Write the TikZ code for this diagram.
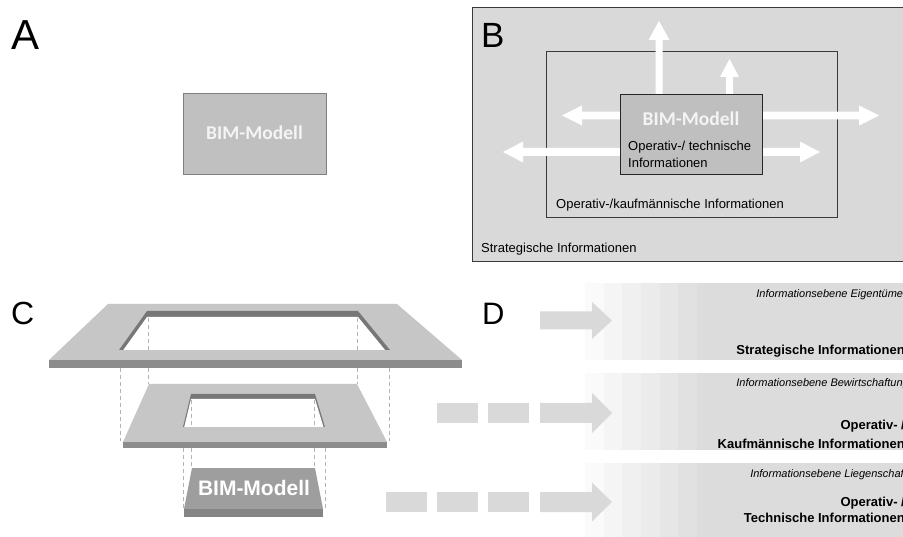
\documentclass[tikz,border=0pt]{standalone}
\usepackage{fontspec}
\setmainfont{Liberation Sans}
\newfontfamily\carlito{Carlito}
\definecolor{boxA}{HTML}{C0C0C0}
\definecolor{boxAline}{HTML}{7F7F7F}
\definecolor{panelB}{HTML}{D9D9D9}
\definecolor{lineB}{HTML}{3A3A3A}
\definecolor{bimB}{HTML}{BFBFBF}
\definecolor{frameTop}{HTML}{C6C6C6}
\definecolor{frameEdge}{HTML}{8C8C8C}
\definecolor{frameWall}{HTML}{777777}
\definecolor{blockTop}{HTML}{9E9E9E}
\definecolor{blockEdge}{HTML}{858585}
\definecolor{dashGray}{HTML}{B4B4B4}
\definecolor{arrowD}{HTML}{D9D9D9}
\definecolor{bandD}{HTML}{DCDCDC}
\definecolor{whiteTxt}{HTML}{F4F4F4}
% #1 x0, #2 xtip, #3 y, #4 shaft half, #5 head half, #6 signed head length, #7 style
\newcommand\hArrow[7]{\fill[#7] (#1,{#3-#4}) -- ({#2-(#6)},{#3-#4}) -- ({#2-(#6)},{#3-#5}) -- (#2,#3) -- ({#2-(#6)},{#3+#5}) -- ({#2-(#6)},{#3+#4}) -- (#1,{#3+#4}) -- cycle;}
% #1 x, #2 y0, #3 ytip, #4 shaft half, #5 head half, #6 signed head length, #7 style
\newcommand\vArrow[7]{\fill[#7] ({#1-#4},#2) -- ({#1-#4},{#3+(#6)}) -- ({#1-#5},{#3+(#6)}) -- (#1,#3) -- ({#1+#5},{#3+(#6)}) -- ({#1+#4},{#3+(#6)}) -- ({#1+#4},#2) -- cycle;}
\tikzset{
  bigletter/.style={anchor=base west, inner sep=0pt, font=\fontsize{#1}{#1}\selectfont},
  txtB/.style={anchor=base west, inner sep=0pt, font=\fontsize{13}{15}\selectfont, text=black},
  bimtxt/.style={inner sep=0pt, text=whiteTxt, font=\carlito\bfseries\fontsize{19.5}{20}\selectfont},
  itD/.style={anchor=base east, inner sep=0pt, font=\itshape\fontsize{11}{12}\selectfont},
  bfD/.style={anchor=base east, inner sep=0pt, font=\bfseries\fontsize{13}{15}\selectfont},
  dashline/.style={dashGray, line width=0.6pt, dash pattern=on 4pt off 3pt},
  whitearrow/.style={fill=white},
  grayarrow/.style={fill=arrowD},
}
\begin{document}
\begin{tikzpicture}[x=1pt,y=-1pt]
\useasboundingbox (0,0) rectangle (903,537);
\fill[white] (0,0) rectangle (903,537);

% ---------------- Panel A ----------------
\node[bigletter=42] (labA) at (11,50) {A};
\node[draw=boxAline, fill=boxA, line width=0.9pt, minimum width=143pt, minimum height=81pt, inner sep=0pt] (bimA) at (254.5,133.5) {};
\node[bimtxt] (bimAtxt) at (254.5,132.5) {BIM-Modell};

% ---------------- Panel B ----------------
\node[draw=lineB, fill=panelB, line width=0.9pt, minimum width=432pt, minimum height=254pt, inner sep=0pt, anchor=north west] (outerB) at (472,7) {};
\node[draw=lineB, line width=0.7pt, minimum width=291pt, minimum height=166pt, inner sep=0pt, anchor=north west] (innerB) at (546,51) {};
\node[bigletter=35] (labB) at (481,48) {B};
% arrows
\vArrow{659}{95}{21}{3.5}{10.5}{19}{whitearrow}
\vArrow{729.5}{95}{59}{3.5}{9.5}{18}{whitearrow}
\hArrow{621}{562}{115.5}{3.8}{10}{-20}{whitearrow}
\hArrow{761}{879}{115.5}{3.8}{10}{20}{whitearrow}
\hArrow{621}{503}{152}{4}{10.5}{-20}{whitearrow}
\hArrow{761}{820}{152}{4}{10.5}{20}{whitearrow}
\node[draw=black!85, fill=bimB, line width=0.9pt, minimum width=142pt, minimum height=80pt, inner sep=0pt, anchor=north west] (bimB) at (620,94) {};
\node[bimtxt] (bimBtxt) at (691,118.5) {BIM-Modell};
\node[txtB] (opTech) at (628,150.6) {Operativ-/ technische};
\node[txtB] (opTech2) at (628,167.5) {Informationen};
\node[txtB] (opKauf) at (556,208.5) {Operativ-/kaufmännische Informationen};
\node[txtB] (strat) at (481,252.5) {Strategische Informationen};

% ---------------- Panel C ----------------
\node[bigletter=32] (labC) at (11,325) {C};
% top frame
\fill[frameTop] (108,304) -- (397,304) -- (462,360) -- (49,360) -- cycle;
\fill[frameEdge] (49,360) rectangle (462,368);
\fill[frameWall] (147,311) -- (358,311) -- (390,350) -- (119,350) -- cycle;
\begin{scope}
  \clip (147,311) -- (358,311) -- (390,350) -- (119,350) -- cycle;
  \fill[white] (147,317) -- (358,317) -- (390,356) -- (119,356) -- cycle;
\end{scope}
% dashed connectors top -> middle
\draw[dashline] (120,368) -- (120,441);
\draw[dashline] (148,318) -- (148,350);
\draw[dashline] (148,368) -- (148,384);
\draw[dashline] (357,318) -- (357,350);
\draw[dashline] (357,368) -- (357,384);
\draw[dashline] (389,368) -- (389,441);
% middle frame
\fill[frameTop] (149,384) -- (357,384) -- (387,442) -- (123,442) -- cycle;
\fill[frameEdge] (123,442) rectangle (387,448);
\fill[frameWall] (191,394) -- (315,394) -- (325,427) -- (183,427) -- cycle;
\begin{scope}
  \clip (191,394) -- (315,394) -- (325,427) -- (183,427) -- cycle;
  \fill[white] (191,399) -- (315,399) -- (325,432) -- (183,432) -- cycle;
\end{scope}
% dashed connectors middle -> block
\draw[dashline] (183,448) -- (183,509);
\draw[dashline] (191.5,400) -- (191.5,427);
\draw[dashline] (191.5,448) -- (191.5,468);
\draw[dashline] (314.5,400) -- (314.5,427);
\draw[dashline] (314.5,448) -- (314.5,468);
\draw[dashline] (325,448) -- (325,509);
% block
\fill[blockTop] (192,468) -- (315,468) -- (323,509) -- (184,509) -- cycle;
\fill[blockEdge] (184,509) rectangle (323,517);
\node[anchor=base, inner sep=0pt, text=white, font=\bfseries\fontsize{21}{21}\selectfont] (bimC) at (254,495.5) {BIM-Modell};

% ---------------- Panel D ----------------
\node[bigletter=31] (labD) at (482,325) {D};
\foreach \ya/\yb in {283/360, 373/450, 463/537}{
  \fill[bandD] (697,\ya) rectangle (905,\yb);
  \foreach \i in {0,...,5}{
    \pgfmathtruncatemacro\g{250-5*\i}
    \definecolor{stepc}{RGB}{\g,\g,\g}
    \fill[stepc] ({585+18.67*\i},\ya) rectangle ({585+18.67*(\i+1)+0.3},\yb);
  }
}
% arrows
\hArrow{540}{612}{320.5}{9}{18.5}{20}{grayarrow}
\fill[arrowD] (437,403) rectangle (478,423);
\fill[arrowD] (488,403) rectangle (529,423);
\hArrow{540}{612}{413}{10}{20}{20}{grayarrow}
\fill[arrowD] (386,492) rectangle (427,512);
\fill[arrowD] (437,492) rectangle (478,512);
\fill[arrowD] (488,492) rectangle (529,512);
\hArrow{540}{612}{502}{10}{19.5}{20}{grayarrow}
% texts
\node[itD] (ebe1) at (907,298) {Informationsebene Eigentümer};
\node[bfD] (lev1) at (905,354.7) {Strategische Informationen};
\node[itD] (ebe2) at (909,387) {Informationsebene Bewirtschaftung};
\node[bfD] (lev2a) at (905,429.7) {Operativ- /};
\node[bfD] (lev2b) at (905,448.3) {Kaufmännische Informationen};
\node[itD] (ebe3) at (907,477) {Informationsebene Liegenschaft};
\node[bfD] (lev3a) at (905,506.7) {Operativ- /};
\node[bfD] (lev3b) at (905,522.7) {Technische Informationen};
\end{tikzpicture}
\end{document}
